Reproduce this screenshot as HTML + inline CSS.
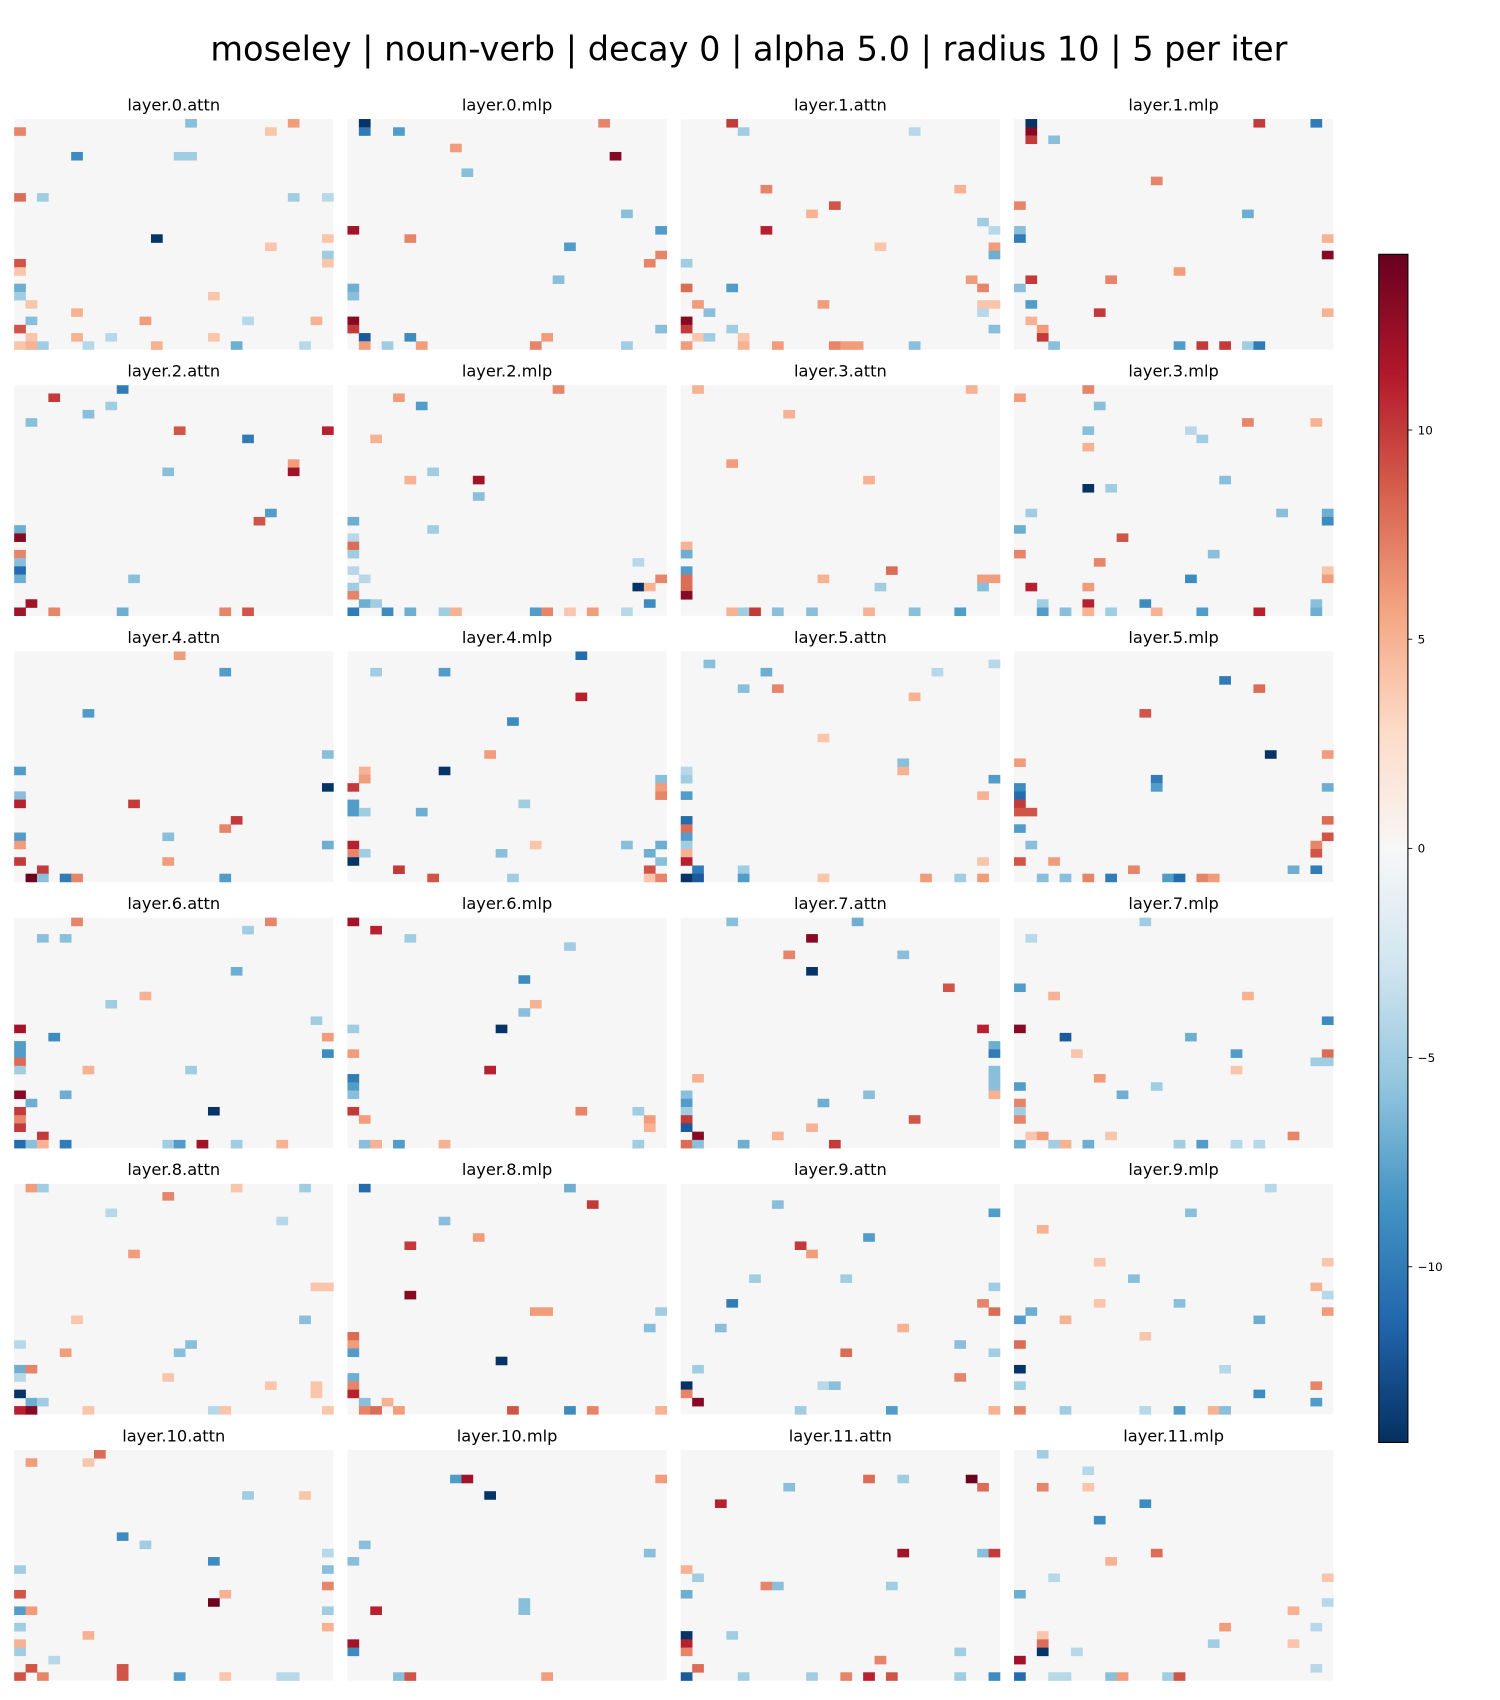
<!DOCTYPE html>
<html><head><meta charset="utf-8"><style>
html,body{margin:0;padding:0;background:#fff;}
svg{display:block;}
text{font-family:"DejaVu Sans","Liberation Sans",sans-serif;fill:#000;}
</style></head><body>
<svg id="fig" xmlns="http://www.w3.org/2000/svg" width="1500" height="1700" viewBox="0 0 1386 1571">
<defs>
<linearGradient id="cbgrad" x1="0" y1="1" x2="0" y2="0">
<stop offset="0" stop-color="#053061"/><stop offset="0.1" stop-color="#2166ac"/><stop offset="0.2" stop-color="#4393c3"/><stop offset="0.3" stop-color="#92c5de"/><stop offset="0.4" stop-color="#d1e5f0"/><stop offset="0.5" stop-color="#f7f7f7"/><stop offset="0.6" stop-color="#fddbc7"/><stop offset="0.7" stop-color="#f4a582"/><stop offset="0.8" stop-color="#d6604d"/><stop offset="0.9" stop-color="#b2182b"/><stop offset="1" stop-color="#67001f"/>
</linearGradient>
</defs>
<text x="692" y="56" font-size="31" text-anchor="middle">moseley | noun-verb | decay 0 | alpha 5.0 | radius 10 | 5 per iter</text>
<g id="panels"></g>
<g id="colorbar"></g>
</svg>
<script>
const panelNames = ["layer.0.attn","layer.0.mlp","layer.1.attn","layer.1.mlp","layer.2.attn","layer.2.mlp","layer.3.attn","layer.3.mlp","layer.4.attn","layer.4.mlp","layer.5.attn","layer.5.mlp","layer.6.attn","layer.6.mlp","layer.7.attn","layer.7.mlp","layer.8.attn","layer.8.mlp","layer.9.attn","layer.9.mlp","layer.10.attn","layer.10.mlp","layer.11.attn","layer.11.mlp"];
const gridSize = 28;
const vmin = -14.2, vmax = 14.2;
const cbTicks = [10, 5, 0, -5, -10];
const cbTickLabels = ["10", "5", "0", "\u22125", "\u221210"];
// each entry: [col, row, value]
const cells0 = [[15,0,-6],[24,0,6],[0,1,7],[22,1,4],[5,4,-9],[14,4,-5],[15,4,-5],[0,9,8],[2,9,-5],[24,9,-5],[27,9,-4],[12,14,-14],[27,14,4],[22,15,4],[27,16,-5],[0,17,9],[27,17,4],[0,18,4],[0,20,-7],[0,21,-5],[17,21,4],[1,22,4],[5,23,5],[1,24,-6],[11,24,6],[20,24,-4],[26,24,5],[0,25,9],[1,26,4],[5,26,5],[8,26,-4],[17,26,4],[0,27,4],[1,27,5],[2,27,-5],[6,27,-4],[12,27,5],[19,27,-7],[25,27,-4]];
const cells1 = [[1,0,-14],[22,0,7],[1,1,-10],[4,1,-8],[9,3,6],[23,4,13],[10,6,-6],[24,11,-6],[0,13,12],[27,13,-8],[5,14,7],[19,15,-8],[27,16,7],[26,17,7],[18,19,-6],[0,20,-7],[0,21,-6],[0,24,13],[0,25,10],[27,25,-6],[1,26,-12],[5,26,-9],[17,26,6],[1,27,6],[3,27,-5],[6,27,6],[16,27,7],[24,27,-5]];
const cells2 = [[4,0,10],[5,1,-5],[20,1,-4],[7,8,7],[13,10,9],[11,11,5],[24,8,5],[7,13,11],[26,12,-5],[27,13,-4],[27,15,6],[27,16,-7],[17,15,4],[0,17,-5],[0,20,8],[4,20,-8],[25,19,6],[26,20,7],[1,22,6],[12,22,6],[2,23,-6],[26,22,4],[27,22,4],[26,23,-4],[0,24,13],[0,25,10],[4,25,-5],[27,25,-6],[1,26,4],[2,26,-5],[5,26,4],[0,27,6],[5,27,5],[8,27,6],[13,27,7],[14,27,6],[15,27,6],[20,27,-6]];
const cells3 = [[1,0,-14],[21,0,10],[26,0,-10],[1,1,13],[1,2,10],[3,2,-6],[12,7,7],[0,10,7],[20,11,-7],[0,13,-6],[0,14,-10],[27,14,5],[27,16,13],[14,18,6],[1,19,10],[8,19,7],[0,20,-6],[1,22,-8],[7,23,10],[27,23,5],[1,24,5],[2,25,6],[2,26,10],[3,27,-6],[14,27,-8],[16,27,10],[18,27,10],[20,27,-5],[21,27,-10]];
const cells4 = [[9,0,-10],[3,1,10],[8,2,-5],[6,3,-6],[1,4,-6],[14,5,9],[27,5,11],[20,6,-10],[24,9,6],[13,10,-6],[24,10,12],[22,15,-8],[21,16,9],[0,17,-7],[0,18,13],[0,20,7],[0,21,-6],[0,22,-11],[0,23,-7],[10,23,-6],[1,26,12],[0,27,12],[3,27,7],[9,27,-7],[18,27,7],[20,27,9]];
const cells5 = [[18,0,7],[4,1,6],[6,2,-8],[2,6,5],[7,10,-5],[5,11,5],[11,11,12],[11,13,-6],[0,16,-7],[7,17,-5],[0,18,-4],[0,19,8],[0,20,-5],[25,21,-4],[0,22,-4],[1,23,-4],[27,23,7],[0,24,-5],[25,24,-14],[26,24,5],[0,25,7],[1,26,-7],[2,26,-5],[26,26,-9],[0,27,-10],[3,27,-9],[5,27,-7],[8,27,-5],[9,27,5],[16,27,-8],[17,27,7],[19,27,4],[21,27,6],[24,27,-4]];
const cells6 = [[1,0,5],[25,0,5],[9,3,5],[4,9,6],[16,11,5],[0,19,5],[0,20,-7],[0,22,-8],[18,22,8],[0,23,8],[12,23,5],[26,23,6],[27,23,6],[0,24,8],[17,24,-5],[26,24,-6],[0,25,13],[4,27,5],[5,27,-5],[6,27,10],[8,27,-6],[11,27,-6],[16,27,5],[20,27,-6],[24,27,-8]];
const cells7 = [[6,0,7],[0,1,6],[7,2,-6],[20,4,7],[26,4,5],[6,5,-6],[15,5,-4],[16,6,-5],[6,7,5],[18,11,-6],[6,12,-14],[8,12,-5],[1,15,-5],[23,15,-6],[27,15,-7],[27,16,-9],[0,17,-7],[9,18,9],[0,20,7],[17,20,-6],[7,21,7],[27,22,4],[15,23,-9],[27,23,6],[1,24,11],[6,24,6],[2,26,-5],[6,26,11],[11,26,-9],[26,26,-6],[2,27,-8],[4,27,-6],[6,27,5],[8,27,-5],[12,27,5],[16,27,-8],[21,27,11],[26,27,-7]];
const cells8 = [[14,0,6],[18,2,-8],[6,7,-8],[27,12,-6],[0,14,-8],[27,16,-14],[0,17,-6],[0,18,11],[10,18,10],[19,20,10],[18,21,7],[0,22,-8],[13,22,-6],[0,23,6],[27,23,-7],[0,25,10],[13,25,6],[2,26,10],[1,27,14],[2,27,-6],[4,27,-10],[5,27,7],[18,27,-8]];
const cells9 = [[20,0,-11],[2,2,-5],[8,2,-8],[20,5,11],[14,8,-9],[12,12,6],[1,14,5],[8,14,-14],[1,15,6],[27,15,-6],[0,16,10],[27,16,6],[27,17,7],[0,18,-8],[15,18,-5],[0,19,-8],[1,19,-5],[6,19,-7],[0,23,11],[16,23,4],[24,23,-6],[27,23,-7],[0,24,7],[1,24,-5],[13,24,-6],[26,24,-7],[0,25,-14],[27,25,-6],[4,26,10],[26,26,9],[7,27,9],[14,27,-5],[26,27,4],[27,27,7]];
const cells10 = [[2,1,-6],[27,1,-4],[7,2,-7],[22,2,-4],[5,4,-6],[8,4,7],[20,5,5],[12,10,4],[19,13,-6],[0,14,-4],[19,14,5],[0,15,-5],[27,15,-8],[0,17,-8],[26,17,5],[0,20,-11],[0,21,8],[0,22,-8],[0,23,-5],[0,24,5],[0,25,11],[26,25,4],[1,26,-10],[5,26,-5],[0,27,-14],[1,27,-12],[5,27,-8],[12,27,4],[21,27,6],[24,27,-5],[26,27,6]];
const cells11 = [[18,3,-10],[21,4,8],[11,7,9],[22,12,-14],[27,12,6],[0,13,6],[12,15,-10],[0,16,-9],[12,16,-8],[27,16,-7],[0,17,-11],[0,18,10],[0,19,9],[1,19,9],[27,20,8],[0,21,-8],[27,22,9],[1,23,-6],[26,23,7],[26,24,9],[0,25,9],[3,25,6],[10,26,7],[24,26,-7],[26,26,-10],[2,27,-6],[4,27,-6],[6,27,7],[8,27,-10],[13,27,-8],[14,27,-11],[16,27,7],[17,27,6]];
const cells12 = [[5,0,7],[22,0,7],[20,1,-5],[2,2,-6],[4,2,-6],[19,6,-7],[11,9,5],[8,10,-5],[26,12,-5],[0,13,12],[3,14,-9],[27,14,6],[0,15,-8],[0,16,-8],[27,16,-9],[0,17,8],[0,18,-5],[6,18,5],[15,18,-5],[0,21,13],[4,21,-7],[1,22,-7],[0,23,10],[17,23,-14],[0,24,7],[0,25,10],[2,26,10],[0,27,-11],[1,27,-6],[2,27,5],[4,27,-10],[13,27,-5],[14,27,-8],[16,27,12],[19,27,-5],[23,27,5]];
const cells13 = [[0,0,12],[2,1,11],[5,2,-5],[19,3,-5],[15,7,-9],[16,10,5],[15,11,-6],[0,13,-5],[13,13,-14],[0,16,6],[12,18,11],[0,19,-10],[0,20,-8],[0,21,-6],[0,23,10],[20,23,7],[25,23,-5],[1,24,6],[26,24,6],[26,25,5],[1,27,-6],[2,27,5],[4,27,-8],[8,27,5],[25,27,-5]];
const cells14 = [[4,0,-6],[15,0,-7],[11,2,13],[9,4,7],[19,4,-6],[11,6,-14],[23,8,9],[26,13,11],[27,15,-7],[27,16,-10],[27,18,-6],[27,19,-6],[27,20,-6],[1,19,5],[27,21,5],[0,21,-6],[16,21,-6],[0,22,-8],[12,22,-7],[0,23,-5],[0,24,10],[20,24,9],[0,25,-12],[11,25,5],[1,26,13],[8,26,5],[0,27,8],[1,27,-6],[5,27,-7],[13,27,10]];
const cells15 = [[11,0,-5],[1,2,-4],[0,8,-8],[3,9,5],[20,9,5],[27,12,-9],[0,13,13],[4,14,-12],[15,14,-7],[5,16,4],[19,16,-8],[27,16,8],[26,17,-5],[27,17,-5],[19,18,4],[7,19,6],[0,20,-8],[12,20,-5],[9,21,-7],[0,22,7],[0,23,-5],[0,24,7],[1,26,4],[2,26,6],[8,26,4],[24,26,7],[0,27,-7],[3,27,-5],[4,27,5],[6,27,-7],[14,27,-5],[16,27,-8],[19,27,-4],[21,27,-4]];
const cells16 = [[1,0,6],[2,0,-5],[19,0,4],[25,0,-5],[13,1,7],[8,3,-4],[23,4,-4],[10,8,6],[26,12,4],[27,12,4],[5,16,4],[25,16,-6],[0,19,-4],[15,19,-6],[4,20,6],[14,20,-6],[0,22,-7],[1,22,7],[0,23,-4],[13,23,4],[22,24,4],[26,24,4],[0,25,-14],[26,25,4],[1,26,-7],[2,26,-5],[0,27,11],[1,27,13],[6,27,4],[17,27,-4],[18,27,4],[27,27,4]];
const cells17 = [[1,0,-11],[19,0,-7],[21,2,10],[8,4,-6],[11,6,6],[5,7,10],[5,13,13],[16,15,6],[17,15,6],[27,15,-5],[26,17,-6],[0,18,8],[0,19,6],[0,20,-8],[13,21,-14],[0,23,-7],[0,24,7],[0,25,11],[1,26,-6],[3,26,5],[1,27,7],[2,27,8],[4,27,6],[14,27,9],[19,27,-9],[21,27,7],[27,27,5]];
const cells18 = [[8,2,-6],[27,3,-8],[16,6,-8],[10,7,10],[11,8,6],[6,11,-5],[14,11,-5],[27,12,-5],[4,14,-10],[26,14,7],[27,15,8],[3,17,-6],[19,17,5],[24,19,-6],[14,20,8],[27,20,-5],[1,22,-5],[24,23,7],[0,24,-14],[12,24,-4],[13,24,-6],[0,25,7],[1,26,13],[10,27,-5],[18,27,-8],[27,27,5]];
const cells19 = [[22,0,-4],[15,3,-6],[2,5,5],[7,9,4],[27,9,4],[10,11,-6],[26,12,5],[27,13,-4],[7,14,4],[14,14,-6],[1,15,-7],[27,15,6],[0,16,-8],[4,16,5],[21,16,-7],[11,18,4],[0,19,8],[0,22,-14],[18,22,-4],[0,24,-5],[26,24,7],[21,25,-9],[26,26,-8],[0,27,7],[4,27,-5],[11,27,-4],[14,27,-8],[17,27,5],[18,27,-6]];
const cells20 = [[7,0,8],[1,1,6],[6,1,4],[20,5,-5],[25,5,4],[9,10,-9],[11,11,-5],[27,12,-4],[17,13,-9],[0,14,-5],[27,14,-6],[27,16,7],[0,17,9],[18,17,5],[17,18,14],[0,19,-8],[1,19,6],[27,19,-5],[0,21,-5],[27,21,5],[6,22,5],[0,23,5],[0,24,-5],[3,25,-4],[1,26,9],[9,26,9],[0,27,9],[2,27,7],[9,27,9],[14,27,-8],[18,27,4],[23,27,-4],[24,27,-4]];
const cells21 = [[9,3,-8],[10,3,12],[27,3,6],[12,5,-14],[1,11,-6],[26,12,-6],[0,13,-6],[15,18,-6],[15,19,-6],[2,19,11],[0,23,12],[0,24,-9],[4,27,-6],[5,27,9],[17,27,6]];
const cells22 = [[16,3,8],[19,3,-5],[25,3,14],[9,4,-6],[26,4,8],[3,6,11],[19,12,12],[26,12,-6],[27,12,10],[0,14,5],[1,15,-5],[7,16,7],[8,16,-6],[18,16,-5],[0,17,-7],[0,22,-14],[4,22,-5],[0,23,11],[0,24,7],[24,24,-5],[17,25,7],[1,26,8],[0,27,-12],[5,27,-5],[11,27,-5],[14,27,7],[16,27,11],[18,27,9],[24,27,-5],[27,27,-9]];
const cells23 = [[2,0,-5],[6,2,-4],[2,4,7],[6,4,4],[11,6,-9],[7,8,-9],[12,12,8],[8,13,5],[3,15,-4],[27,15,4],[0,17,-7],[27,18,-4],[24,19,5],[18,21,6],[26,21,-4],[2,22,4],[2,23,8],[17,23,-5],[24,23,4],[2,24,-14],[5,24,-4],[0,25,12],[26,26,-4],[0,27,-11],[3,27,-4],[4,27,-4],[8,27,-6],[9,27,6],[13,27,-5],[14,27,9]];
const panelCells = [cells0,cells1,cells2,cells3,cells4,cells5,cells6,cells7,cells8,cells9,cells10,cells11,cells12,cells13,cells14,cells15,cells16,cells17,cells18,cells19,cells20,cells21,cells22,cells23];

const NS = "http://www.w3.org/2000/svg";
const stops = ["#053061","#2166ac","#4393c3","#92c5de","#d1e5f0","#f7f7f7","#fddbc7","#f4a582","#d6604d","#b2182b","#67001f"];
function hex(c){return [parseInt(c.slice(1,3),16),parseInt(c.slice(3,5),16),parseInt(c.slice(5,7),16)];}
function colorOf(v){
  let t=(v-vmin)/(vmax-vmin); t=Math.max(0,Math.min(1,t));
  const p=t*10, i=Math.min(9,Math.floor(p)), f=p-i;
  const a=hex(stops[i]), b=hex(stops[i+1]);
  return "rgb("+a.map((x,k)=>Math.round(x+(b[k]-x)*f)).join(",")+")";
}
const panelW=295, panelH=213;
function panelX(i){return 13+308*(i%4);}
function panelY(i){return 110+246*Math.floor(i/4);}
function xScale(i,c){return panelX(i)+c*panelW/gridSize;}
function yScale(i,r){return panelY(i)+r*panelH/gridSize;}

const pg=document.getElementById("panels");
panelNames.forEach((name,i)=>{
  const g=document.createElementNS(NS,"g");
  
  
  const bg=document.createElementNS(NS,"rect");
  bg.setAttribute("x",panelX(i));bg.setAttribute("y",panelY(i));
  bg.setAttribute("width",panelW);bg.setAttribute("height",panelH);
  bg.setAttribute("fill","#f6f6f6");
  
  
  g.appendChild(bg);
  panelCells[i].forEach(d=>{
    const r=document.createElementNS(NS,"rect");
    r.setAttribute("x",xScale(i,d[0]).toFixed(2));
    r.setAttribute("y",yScale(i,d[1]).toFixed(2));
    r.setAttribute("width",(panelW/gridSize+0.3).toFixed(2));
    r.setAttribute("height",(panelH/gridSize+0.3).toFixed(2));
    r.setAttribute("fill",colorOf(d[2]));
    
    
    g.appendChild(r);
  });
  const t=document.createElementNS(NS,"text");
  t.setAttribute("x",panelX(i)+panelW/2);t.setAttribute("y",panelY(i)-8);
  t.setAttribute("font-size","15");t.setAttribute("text-anchor","middle");
  t.textContent=name;
  
  
  g.appendChild(t);
  pg.appendChild(g);
});

// colorbar
const cb=document.getElementById("colorbar");
const cbX=1274, cbW=27, cbTop=235, cbBot=1333;
function cbY(v){return cbBot-(v-vmin)/(vmax-vmin)*(cbBot-cbTop);}
const cbr=document.createElementNS(NS,"rect");
cbr.setAttribute("x",cbX);cbr.setAttribute("y",cbTop);cbr.setAttribute("width",cbW);cbr.setAttribute("height",cbBot-cbTop);
cbr.setAttribute("fill","url(#cbgrad)");cbr.setAttribute("stroke","#000");cbr.setAttribute("stroke-width","1");


cb.appendChild(cbr);
cbTicks.forEach((v,k)=>{
  const y=cbY(v);
  const l=document.createElementNS(NS,"line");
  l.setAttribute("x1",cbX+cbW);l.setAttribute("x2",cbX+cbW+4);l.setAttribute("y1",y);l.setAttribute("y2",y);
  l.setAttribute("stroke","#000");l.setAttribute("stroke-width","0.8");
  
  
  cb.appendChild(l);
  const t=document.createElementNS(NS,"text");
  t.setAttribute("x",cbX+cbW+9);t.setAttribute("y",y+4);t.setAttribute("font-size","11");
  t.textContent=cbTickLabels[k];
  
  
  cb.appendChild(t);
});
</script>
</body></html>
